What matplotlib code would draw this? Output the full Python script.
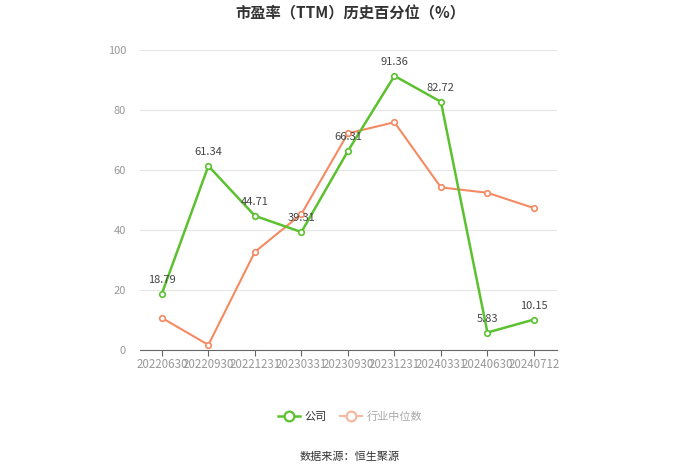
import matplotlib
matplotlib.use("Agg")
import matplotlib.pyplot as plt
from matplotlib.lines import Line2D

plt.rcParams['font.family'] = ['Noto Sans CJK SC', 'DejaVu Sans']

dates = ["20220630", "20220930", "20221231", "20230331", "20230930",
         "20231231", "20240331", "20240630", "20240712"]
company = [18.79, 61.34, 44.71, 39.31, 66.31, 91.36, 82.72, 5.83, 10.15]
industry = [10.7, 1.7, 32.7, 45.3, 72.2, 75.9, 54.2, 52.4, 47.3]

GREEN = "#5cc12f"
ORANGE = "#f58a62"

fig = plt.figure(figsize=(7, 4.74), dpi=100)
ax = fig.add_axes([0.2, 0.2616, 0.596, 0.633])
x = list(range(len(dates)))

ax.plot(x, industry, color=ORANGE, lw=1.5, marker="o", ms=4,
        mfc="white", mec=ORANGE, mew=1.2, zorder=3)
ax.plot(x, company, color=GREEN, lw=1.8, marker="o", ms=4,
        mfc="white", mec=GREEN, mew=1.2, zorder=4)
for xi, v in zip(x, company):
    ax.text(xi, v + 3, f"{v:.2f}", ha="center", va="bottom",
            fontsize=8, color="#444444", zorder=5)

ax.set_ylim(0, 100)
ax.set_yticks([0, 20, 40, 60, 80, 100])
ax.set_xlim(-0.47, 8.5)
ax.set_xticks(x)
ax.set_xticklabels(dates)
ax.tick_params(axis="x", colors="#999999", labelsize=8.3, length=4, pad=2)
ax.tick_params(axis="x", color="#666666")
ax.tick_params(axis="y", colors="#999999", labelsize=8, length=0, pad=10)
ax.grid(axis="y", color="#e6e6e6", lw=0.8)
ax.set_axisbelow(True)
for s in ("top", "right", "left"):
    ax.spines[s].set_visible(False)
ax.spines["bottom"].set_color("#666666")

fig.text(0.5, 0.972, "市盈率（TTM）历史百分位（%）", ha="center", va="center",
         fontsize=11, fontweight="bold", color="#333333")

handles = [
    Line2D([], [], color=GREEN, lw=1.8, marker="o", ms=7, mfc="white", mec=GREEN, mew=1.6),
    Line2D([], [], color="#f5b8a0", lw=1.5, marker="o", ms=7, mfc="white", mec="#f5b8a0", mew=1.6),
]
leg = fig.legend(handles, ["公司", "行业中位数"], loc="center", bbox_to_anchor=(0.5, 0.122),
                 ncol=2, frameon=False, fontsize=8, handlelength=2, columnspacing=1.2,
                 handletextpad=0.4)
leg.get_texts()[0].set_color("#333333")
leg.get_texts()[1].set_color("#aaaaaa")

fig.text(0.5, 0.036, "数据来源：恒生聚源", ha="center", va="center",
         fontsize=8, color="#333333")

fig.savefig("out.png", dpi=100)
